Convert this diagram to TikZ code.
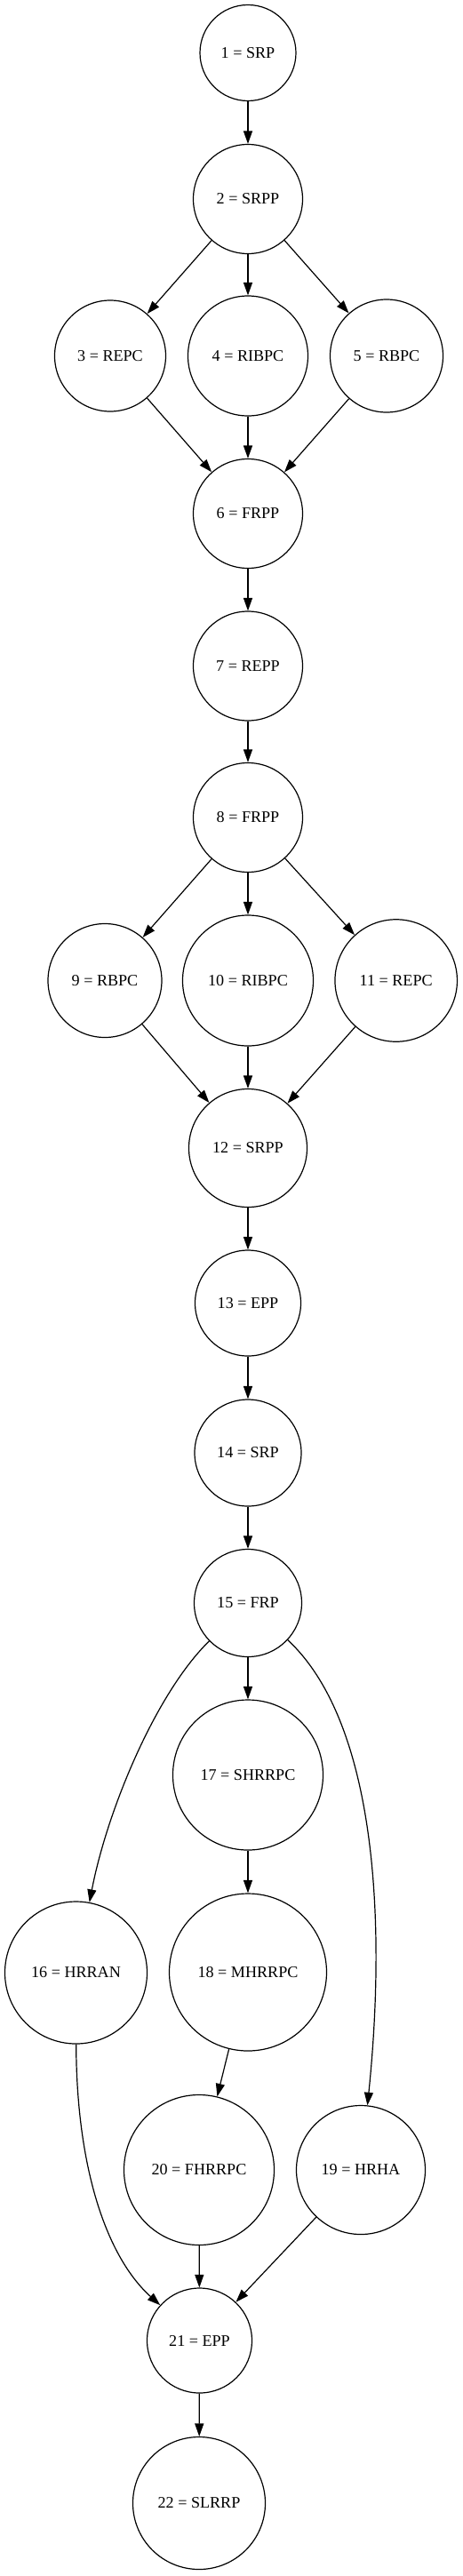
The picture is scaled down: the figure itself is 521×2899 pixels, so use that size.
\documentclass[tikz,border=0pt]{standalone}
\usepackage{fontspec}
\setmainfont{Liberation Serif}
\usetikzlibrary{arrows.meta}
\begin{document}
\begin{tikzpicture}[x=1pt,y=-1pt,
  nd/.style={circle, draw, line width=1.2pt, inner sep=0pt, font=\fontsize{18.1}{20}\selectfont},
  ed/.style={line width=1.2pt, -{Triangle[length=14.5pt,width=10pt]}}]
\useasboundingbox (0,0) rectangle (521,2899);
\node[nd, minimum size=108pt] (n1) at (279,59.5) {1 = SRP};
\node[nd, minimum size=123pt] (n2) at (279,224) {2 = SRPP};
\node[nd, minimum size=125pt] (n3) at (124,400.5) {3 = REPC};
\node[nd, minimum size=135pt] (n4) at (279,400.5) {4 = RIBPC};
\node[nd, minimum size=127pt] (n5) at (435,400.5) {5 = RBPC};
\node[nd, minimum size=123pt] (n6) at (279,578) {6 = FRPP};
\node[nd, minimum size=123pt] (n7) at (279,749.5) {7 = REPP};
\node[nd, minimum size=123pt] (n8) at (279,920) {8 = FRPP};
\node[nd, minimum size=128pt] (n9) at (118,1103.5) {9 = RBPC};
\node[nd, minimum size=147pt] (n10) at (279,1103.5) {10 = RIBPC};
\node[nd, minimum size=137.5pt] (n11) at (445.7,1103.5) {11 = REPC};
\node[nd, minimum size=133pt] (n12) at (279,1292) {12 = SRPP};
\node[nd, minimum size=119pt] (n13) at (279,1466.5) {13 = EPP};
\node[nd, minimum size=120pt] (n14) at (279,1635) {14 = SRP};
\node[nd, minimum size=121pt] (n15) at (279,1804) {15 = FRP};
\node[nd, minimum size=160pt] (n16) at (85.5,2220) {16 = HRRAN};
\node[nd, minimum size=169pt] (n17) at (279,1997.5) {17 = SHRRPC};
\node[nd, minimum size=177pt] (n18) at (279,2219.5) {18 = MHRRPC};
\node[nd, minimum size=145pt] (n19) at (406,2442) {19 = HRHA};
\node[nd, minimum size=169pt] (n20) at (224,2442) {20 = FHRRPC};
\node[nd, minimum size=118pt] (n21) at (224.5,2634) {21 = EPP};
\node[nd, minimum size=149pt] (n22) at (224,2817) {22 = SLRRP};
\draw[ed] (n1) -- (n2);
\draw[ed] (n2) -- (n3);
\draw[ed] (n2) -- (n4);
\draw[ed] (n2) -- (n5);
\draw[ed] (n3) -- (n6);
\draw[ed] (n4) -- (n6);
\draw[ed] (n5) -- (n6);
\draw[ed] (n6) -- (n7);
\draw[ed] (n7) -- (n8);
\draw[ed] (n8) -- (n9);
\draw[ed] (n8) -- (n10);
\draw[ed] (n8) -- (n11);
\draw[ed] (n9) -- (n12);
\draw[ed] (n10) -- (n12);
\draw[ed] (n11) -- (n12);
\draw[ed] (n12) -- (n13);
\draw[ed] (n13) -- (n14);
\draw[ed] (n14) -- (n15);
\draw[ed] (n15) .. controls (174,1907) and (120,2040) .. (n16);
\draw[ed] (n15) -- (n17);
\draw[ed] (n15) .. controls (420,1935) and (436,2150) .. (n19);
\draw[ed] (n17) -- (n18);
\draw[ed] (n18) -- (n20);
\draw[ed] (n16) .. controls (86,2440) and (120,2540) .. (n21);
\draw[ed] (n20) -- (n21);
\draw[ed] (n19) -- (n21);
\draw[ed] (n21) -- (n22);
\end{tikzpicture}
\end{document}
